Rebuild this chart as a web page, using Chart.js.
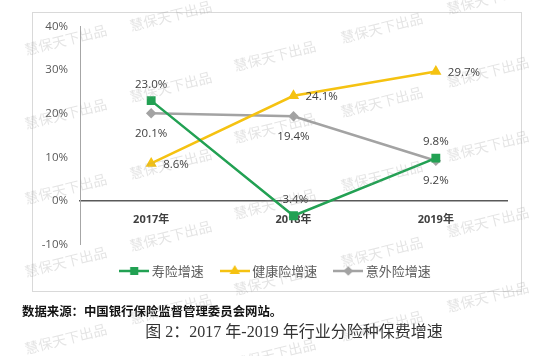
<!DOCTYPE html>
<html><head><meta charset="utf-8">
<script src="https://cdn.jsdelivr.net/npm/chart.js@4.4.0/dist/chart.umd.min.js"></script>
<style>html,body{margin:0;padding:0;background:#fff;}#wrap{position:relative;width:550px;height:356px;}</style>
</head><body><div id="wrap"><canvas id="c" width="550" height="356"></canvas></div>
<script>
// ---- data ----
const categories = ['2017年', '2018年', '2019年'];
const lifeGrowth = [23.0, -3.4, 9.8];
const healthGrowth = [8.6, 24.1, 29.7];
const accidentGrowth = [20.1, 19.4, 9.2];
const seriesNames = ['寿险增速', '健康险增速', '意外险增速'];
const yTicks = [-10, 0, 10, 20, 30, 40];
const sourceText = '数据来源：中国银行保险监督管理委员会网站。';
const figureTitle = '图 2：2017 年-2019 年行业分险种保费增速';
const watermarkText = '慧保天下出品';

// ---- style ----
const GREEN = '#22a153', YELLOW = '#f5c211', GRAY = '#a3a3a3';
const CJK = '"Noto Sans CJK SC"';
const LATIN = '"Open Sans", "Noto Sans CJK SC", sans-serif';

function legendImage(color, style, r) {
  const cv = document.createElement('canvas');
  cv.width = 30; cv.height = 12;
  const g = cv.getContext('2d');
  g.strokeStyle = color; g.lineWidth = 2.5;
  g.beginPath(); g.moveTo(0, 6); g.lineTo(30, 6); g.stroke();
  g.fillStyle = color;
  Chart.helpers.drawPoint(g, {pointStyle: style, radius: r, borderWidth: 1}, 15, 6);
  g.fill();
  return cv;
}

const dataLabelPlugin = {
  id: 'dataLabels',
  afterDatasetsDraw(chart) {
    const ctx = chart.ctx;
    ctx.save();
    ctx.font = '11.5px ' + LATIN;
    ctx.fillStyle = '#404040';
    ctx.textBaseline = 'middle';
    chart.data.datasets.forEach((ds, di) => {
      const meta = chart.getDatasetMeta(di);
      meta.data.forEach((pt, i) => {
        const txt = ds.data[i].toFixed(1) + '%';
        const pos = ds.labelPos;
        if (pos === 'above') { ctx.textAlign = 'center'; ctx.fillText(txt, pt.x, pt.y - 16); }
        else if (pos === 'below') { ctx.textAlign = 'center'; ctx.fillText(txt, pt.x, pt.y + 20); }
        else { ctx.textAlign = 'left'; ctx.fillText(txt, pt.x + 12, pt.y + 1); }
      });
    });
    ctx.restore();
  }
};

const framePlugin = {
  id: 'frame',
  beforeDraw(chart) {
    const ctx = chart.ctx;
    ctx.save();
    ctx.fillStyle = '#fff';
    ctx.fillRect(0, 0, chart.width, chart.height);
    ctx.strokeStyle = '#d9d9d9'; ctx.lineWidth = 1;
    ctx.strokeRect(32.5, 12.5, 489, 279);
    ctx.restore();
  },
  afterDraw(chart) {
    const ctx = chart.ctx;
    ctx.save();
    ctx.fillStyle = '#111';
    ctx.font = 'bold 12.4px ' + CJK;
    ctx.textAlign = 'left'; ctx.textBaseline = 'middle';
    ctx.fillText(sourceText, 22, 311);
    ctx.fillStyle = '#333';
    ctx.font = '16px "Liberation Serif", ' + CJK;
    ctx.textAlign = 'center';
    ctx.fillText(figureTitle, 294, 333);
    // watermarks
    const marks = [
      [65,36],[170,12],[274,52],[381,24],[487,-5],
      [65,110],[170,83],[274,124],[381,98],[487,68],
      [65,185],[170,160],[274,200],[381,172],[487,142],
      [65,258],[170,232],[274,276],[381,248],[487,218],
      [65,335],[170,305],[274,350],[381,322],[487,293]
    ];
    ctx.font = '14px ' + CJK;
    ctx.fillStyle = 'rgba(150,150,150,0.26)';
    ctx.textAlign = 'left';
    marks.forEach(([x, y]) => {
      ctx.save(); ctx.translate(x - 40, y + 14); ctx.rotate(-14 * Math.PI / 180);
      ctx.fillText(watermarkText, 0, 0); ctx.restore();
    });
    ctx.restore();
  }
};

const legendImgs = [legendImage(GREEN, 'rect', 4), legendImage(YELLOW, 'triangle', 3.5), legendImage(GRAY, 'rectRot', 3)];

new Chart(document.getElementById('c').getContext('2d'), {
  type: 'line',
  data: {
    labels: categories,
    datasets: [
      {label: seriesNames[0], data: lifeGrowth, borderColor: GREEN, backgroundColor: GREEN, pointStyle: 'rect', pointRadius: 4.5, borderWidth: 2.5, labelPos: 'above'},
      {label: seriesNames[1], data: healthGrowth, borderColor: YELLOW, backgroundColor: YELLOW, pointStyle: 'triangle', pointRadius: 4, borderWidth: 2.5, labelPos: 'right'},
      {label: seriesNames[2], data: accidentGrowth, borderColor: GRAY, backgroundColor: GRAY, pointStyle: 'rectRot', pointRadius: 3.5, borderWidth: 2.5, labelPos: 'below'}
    ]
  },
  options: {
    responsive: false,
    animation: false,
    layout: {padding: {left: 30, right: 26, top: 26.5, bottom: 68.5}},
    scales: {
      x: {
        position: {y: 0},
        offset: true,
        grid: {display: true, drawOnChartArea: false, drawTicks: false},
        border: {display: true, color: '#595959', width: 1.5},
        ticks: {color: '#404040', padding: 12, font: {family: LATIN, size: 11, weight: 'bold'}}
      },
      y: {
        min: yTicks[0], max: yTicks[yTicks.length - 1],
        afterFit(s) { s.width = 50; },
        afterBuildTicks(s) { s.ticks = yTicks.map(v => ({value: v})); },
        grid: {display: true, drawOnChartArea: false, drawTicks: false},
        border: {display: true, color: '#a6a6a6', width: 1},
        ticks: {padding: 12, color: '#595959', font: {family: LATIN, size: 11.5}, callback: v => v + '%'}
      },
      yRight: {
        position: 'right', display: true,
        afterFit(s) { s.width = 17; },
        grid: {display: false}, border: {display: false}, ticks: {display: false}
      }
    },
    plugins: {
      tooltip: {enabled: false},
      legend: {
        position: 'bottom',
        labels: {
          usePointStyle: true, pointStyleWidth: 22, padding: 20, color: '#595959',
          font: {family: CJK, size: 13},
          generateLabels(chart) {
            const items = Chart.defaults.plugins.legend.labels.generateLabels(chart);
            items.forEach((it, i) => { it.pointStyle = legendImgs[i]; });
            return items;
          }
        }
      }
    }
  },
  plugins: [framePlugin, dataLabelPlugin]
});
</script></body></html>
